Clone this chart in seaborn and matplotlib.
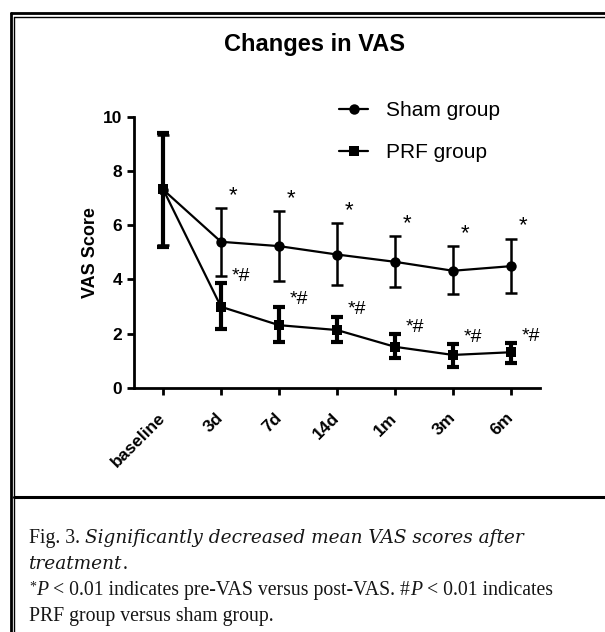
import numpy as np
import pandas as pd
import matplotlib
matplotlib.use("Agg")
import matplotlib.pyplot as plt
import seaborn as sns
from matplotlib.lines import Line2D

sns.set_theme(style="white")
plt.rcParams["font.family"] = ["Liberation Sans", "DejaVu Sans"]
plt.rcParams.update({"text.color": "black", "axes.labelcolor": "black",
                     "xtick.color": "black", "ytick.color": "black"})

# Data
timepoints = ["baseline", "3d", "7d", "14d", "1m", "3m", "6m"]
sham_mean = [7.32, 5.39, 5.23, 4.92, 4.65, 4.32, 4.49]
sham_upper = [9.35, 6.62, 6.52, 6.07, 5.61, 5.23, 5.51]
sham_lower = [5.27, 4.12, 3.94, 3.79, 3.72, 3.45, 3.48]
prf_mean = [7.34, 2.99, 2.31, 2.13, 1.51, 1.21, 1.31]
prf_upper = [9.42, 3.85, 2.99, 2.62, 1.97, 1.61, 1.64]
prf_lower = [5.20, 2.17, 1.68, 1.68, 1.08, 0.78, 0.90]
sham_marks = ["", "*", "*", "*", "*", "*", "*"]
prf_marks = ["", "*#", "*#", "*#", "*#", "*#", "*#"]
groups = ["Sham group", "PRF group"]

df = pd.DataFrame({
    "time": timepoints * 2,
    "score": sham_mean + prf_mean,
    "group": [groups[0]] * len(timepoints) + [groups[1]] * len(timepoints),
})

W, H = 605, 632
fig = plt.figure(figsize=(W / 100, H / 100), dpi=100)
ax = fig.add_axes([134 / W, 1 - 387.7 / H, (540 - 134) / W, (387.7 - 117) / H])

sns.lineplot(data=df, x="time", y="score", hue="group", style="group",
             markers={"Sham group": "o", "PRF group": "s"}, dashes=False,
             palette={"Sham group": "black", "PRF group": "black"},
             markersize=7.5, linewidth=1.6, markeredgewidth=0, ax=ax, sort=False)

# error bars
sham_mean_a = np.array(sham_mean)
prf_mean_a = np.array(prf_mean)
ax.errorbar(timepoints, sham_mean,
            yerr=[sham_mean_a - np.array(sham_lower), np.array(sham_upper) - sham_mean_a],
            fmt="none", ecolor="black", elinewidth=1.8, capsize=4, capthick=1.8)
ax.errorbar(timepoints, prf_mean,
            yerr=[prf_mean_a - np.array(prf_lower), np.array(prf_upper) - prf_mean_a],
            fmt="none", ecolor="black", elinewidth=3, capsize=4.5, capthick=3)

# significance marks
for t, top, m in zip(timepoints, sham_upper, sham_marks):
    if m:
        ax.annotate(m, (t, top), xytext=(9, 9), textcoords="offset points",
                    ha="center", va="center", fontsize=16)
for t, top, m in zip(timepoints, prf_upper, prf_marks):
    if m:
        ax.annotate(m, (t, top), xytext=(14, 5), textcoords="offset points",
                    ha="center", va="center", fontsize=14)

ax.set_xlim(-0.5, 6.5)
ax.set_ylim(0, 10)
ax.set_yticks([0, 2, 4, 6, 8, 10])
ax.set_xlabel("")
ax.set_ylabel("VAS Score", fontsize=13, fontweight="bold", labelpad=3)
sns.despine(ax=ax)
for s in ["left", "bottom"]:
    ax.spines[s].set_linewidth(2)
    ax.spines[s].set_color("black")
ax.tick_params(axis="y", length=5, width=2, labelsize=12.5, pad=3.5, left=True)
ax.tick_params(axis="x", length=5, width=2, labelsize=12.5, pad=15, bottom=True)
for lab in ax.get_yticklabels():
    lab.set_fontweight("bold")
for lab in ax.get_xticklabels():
    lab.set_fontweight("bold")
    lab.set_rotation(45)
    lab.set_ha("right")
    lab.set_va("center")
    lab.set_rotation_mode("anchor")

handles, labels = ax.get_legend_handles_labels()
ax.legend(handles, labels, loc="upper left", bbox_to_anchor=(339 / W, 1 - 101 / H),
          bbox_transform=fig.transFigure, frameon=False, fontsize=15,
          handlelength=1.4, labelspacing=1.12, borderpad=0, borderaxespad=0,
          handletextpad=0.85)

fig.text(314 / W, 1 - 51 / H, "Changes in VAS", ha="center", va="baseline",
         fontsize=17, fontweight="bold")

# frame lines
def fline(x0, y0, x1, y1, lw):
    fig.add_artist(Line2D([x0 / W, x1 / W], [1 - y0 / H, 1 - y1 / H], color="black",
                          linewidth=lw, transform=fig.transFigure))

fline(10.5, 12.5, 10.5, H, 2.0)
fline(10.5, 12.5, W, 12.5, 2.0)
fline(14, 17, 14, H, 1.0)
fline(14, 17, W, 17, 1.0)
fline(14, 497, W, 497, 2.2)

# caption
renderer = fig.canvas.get_renderer()
serif = ["Liberation Serif", "DejaVu Serif"]
serif_it = ["DejaVu Serif", "Liberation Serif"]


def draw_runs(x, y, runs):
    for txt, style, rise, size, fam in runs:
        t = fig.text(x / W, 1 - (y - rise) / H, txt, ha="left", va="baseline",
                     fontsize=size, family=fam, style=style, color="#161616")
        bb = t.get_window_extent(renderer=renderer)
        x += bb.width


fs = 14.2
fi = 13.3
draw_runs(29, 543, [("Fig. 3. ", "normal", 0, fs, serif),
                    ("Significantly decreased mean VAS scores after", "italic", 0, fi, serif_it)])
draw_runs(29, 569, [("treatment", "italic", 0, fi, serif_it), (".", "normal", 0, fs, serif)])
draw_runs(29, 595, [("*", "normal", 4, 10, serif), ("P", "italic", 0, fs, serif),
                    (" < 0.01 indicates pre-VAS versus post-VAS. #", "normal", 0, fs, serif),
                    ("P", "italic", 0, fs, serif), (" < 0.01 indicates", "normal", 0, fs, serif)])
draw_runs(29, 621, [("PRF group versus sham group.", "normal", 0, fs, serif)])

fig.savefig("out.png", dpi=100)
